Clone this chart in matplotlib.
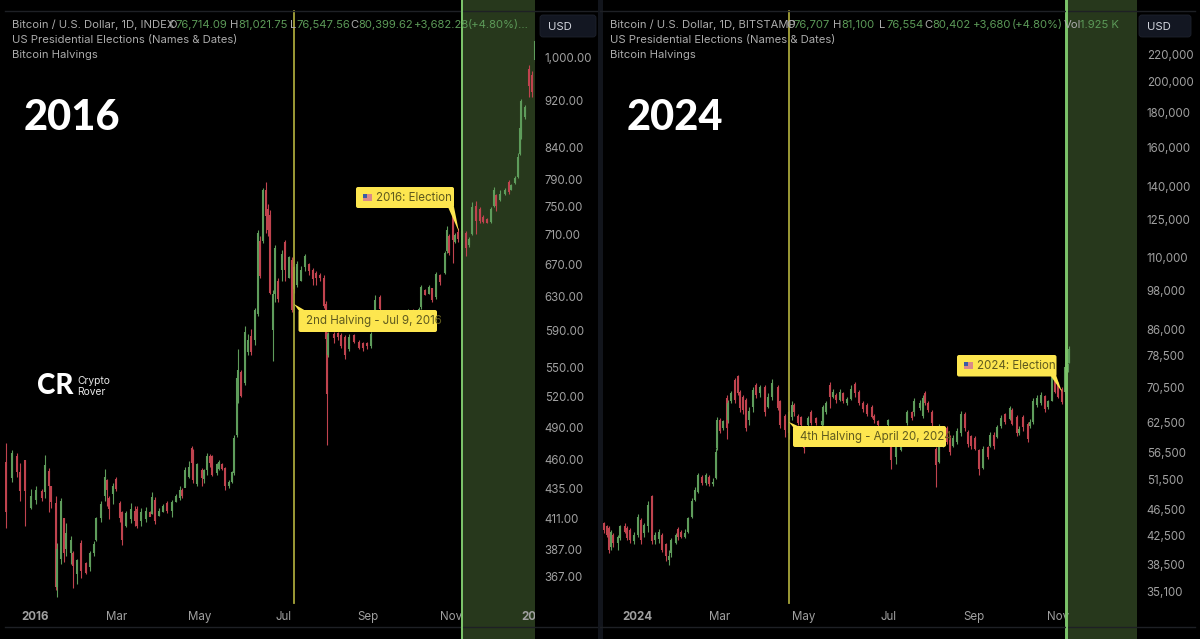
import matplotlib
matplotlib.use("Agg")
import matplotlib.pyplot as plt
from matplotlib.patches import FancyBboxPatch, Polygon, Rectangle
from matplotlib.transforms import Bbox, TransformedBbox, blended_transform_factory

W, H = 1200, 639
FONT = "Inter"
plt.rcParams["font.family"] = [FONT, "DejaVu Sans"]

# ------------------------------------------------------------ 2016 candles
days_2016 = [
    -21,-17,-13,-11,-7,-3,1,5,7,10,
    12,15,16,19,21,23,26,28,31,34,
    37,40,43,45,48,51,53,54,57,59,
    62,64,67,70,73,75,78,81,84,86,
    88,91,94,97,100,103,106,108,110,113,
    115,116,119,122,124,126,128,130,133,135,
    137,139,142,144,146,148,149,151,154,156,
    158,161,163,165,167,169,171,172,174,176,
    178,181,183,186,188,190,192,195,198,201,
    204,206,209,212,213,214,215,219,222,224,
    227,230,234,237,240,243,246,249,253,256,
    260,264,269,273,277,281,283,286,289,291,
    294,297,300,302,303,306,308,310,313,316,
    318,320,323,326,328,331,334,336,338,341,
    344,347,349,352,354,355,356,359,362,364,366]
high_2016 = [
    475,469,466,457,460,435,437,435,464,453,
    437,429,392,427,411,407,397,386,380,394,
    378,386,393,412,425,452,443,429,440,445,
    425,417,417,423,421,421,419,420,417,432,
    428,419,422,425,426,431,437,436,454,459,
    472,470,457,453,452,466,465,464,457,460,
    457,454,442,450,483,542,570,547,595,587,
    592,617,717,708,777,787,754,745,638,696,
    653,690,703,682,680,669,675,669,685,673,
    666,662,660,657,625,589,589,589,589,588,
    585,587,587,580,578,578,589,632,632,612,
    610,606,610,616,616,618,644,640,644,641,
    661,658,688,722,711,745,712,719,717,715,
    707,757,758,749,738,733,749,779,769,774,
    777,789,784,795,831,875,923,913,985,974,1034]
low_2016 = [
    403,441,445,425,405,418,422,425,427,416,
    419,358,353,376,378,382,376,359,362,366,
    369,371,382,393,408,425,421,410,422,433,
    408,390,404,407,405,403,405,408,413,414,
    406,413,416,415,412,424,426,427,437,444,
    452,440,437,437,440,447,454,446,447,451,
    451,434,436,440,447,481,513,519,531,563,
    563,574,607,654,699,713,708,634,557,624,
    624,649,649,653,612,635,642,649,662,657,
    644,644,649,617,577,473,561,576,580,571,
    559,568,576,570,568,570,571,590,614,598,
    598,596,600,602,604,606,616,632,633,624,
    628,644,658,686,683,673,699,701,705,682,
    694,710,711,726,726,726,726,749,744,758,
    767,769,774,784,792,829,854,888,927,927,992]
open_2016 = [
    458,444,463,449,460,419,426,433,432,450,
    437,423,360,380,411,387,384,384,369,392,
    377,374,384,394,411,429,442,427,431,443,
    423,416,405,410,417,418,409,410,416,414,
    426,413,416,423,417,424,427,434,436,445,
    471,469,439,451,443,451,463,463,448,452,
    456,453,437,441,448,483,516,545,534,566,
    584,580,610,702,702,774,746,738,591,633,
    650,664,701,654,677,640,644,650,667,671,
    664,660,657,654,622,583,563,587,588,585,
    583,570,585,578,576,576,573,592,630,600,
    609,598,601,604,614,608,618,639,634,641,
    630,657,660,688,709,741,701,714,715,713,
    696,711,751,747,735,732,728,751,767,760,
    769,787,775,785,794,830,857,891,979,967,996]
close_2016 = [
    416,466,449,433,433,429,434,427,455,437,
    424,360,387,425,384,399,394,375,379,371,
    370,384,391,411,422,445,434,418,437,435,
    411,394,415,418,409,405,416,417,412,428,
    409,417,421,417,424,429,434,429,451,454,
    457,442,456,444,451,463,457,447,456,458,
    452,437,441,449,480,539,547,520,589,580,
    566,614,713,656,774,737,717,635,634,692,
    628,685,664,680,614,667,671,664,682,662,
    652,653,654,619,581,522,587,582,583,573,
    563,583,578,571,571,573,587,626,616,610,
    600,604,608,614,606,616,642,632,642,626,
    658,648,686,717,686,703,710,704,707,692,
    705,749,730,730,728,727,747,774,751,769,
    774,772,782,792,826,872,920,909,947,935,1032]

# ------------------------------------------------------------ 2024 candles
days_2024 = [
    -24,-22,-20,-19,-17,-14,-12,-9,-7,-5,
    -2,1,3,5,8,11,13,16,18,21,
    23,25,28,30,32,35,37,40,42,44,
    47,50,52,55,57,58,60,62,65,66,
    68,71,73,75,77,79,81,84,86,89,
    93,95,98,102,104,107,110,112,114,117,
    119,121,124,126,130,134,135,137,140,142,
    144,147,149,152,155,158,161,164,167,170,
    172,175,178,182,184,188,191,196,199,201,
    205,207,209,211,214,217,219,222,225,227,
    229,232,235,238,240,242,245,248,251,254,
    256,259,261,264,267,270,272,275,277,280,
    283,285,287,290,293,296,298,301,303,305,
    308,310,312,313]
high_2024 = [
    44600,44100,43900,43300,42850,42600,44100,44300,43900,43650,
    43100,45750,45100,44300,47800,48900,43100,43500,42850,41500,
    40450,42100,42950,43800,43300,43500,45300,48350,50250,52700,
    52200,52700,52200,51800,57300,63800,63500,63100,68700,67500,
    69700,72700,73500,69800,68700,68000,66000,70700,71500,71100,
    71100,69200,72500,71100,67500,64400,65300,67200,66800,64400,
    64000,61700,64000,65200,63700,63100,66400,67200,71700,70200,
    69100,70200,69500,68300,71100,71700,69800,67200,66800,66400,
    64400,63100,61500,63300,58500,58200,58500,65300,65000,68100,
    67500,68700,69700,67200,65200,57500,62300,61400,61700,60000,
    60000,61400,65000,64800,61000,60000,59700,57200,57800,57800,
    60600,60500,61900,64100,64700,66200,65600,64100,61700,64100,
    62700,63200,68000,68800,69300,68800,67600,74000,73000,71800,
    70600,76600,76600,81100]
low_2024 = [
    42900,42350,40100,40450,40950,40450,41900,42850,41900,41500,
    41350,42350,41350,42350,43100,41300,41300,41500,40250,39000,
    38400,39500,41300,41900,42100,42100,42850,45100,47800,49100,
    50500,50500,50350,50350,51500,57000,60300,61000,59100,62400,
    66800,66800,68700,64800,64400,60700,62000,64800,68000,68300,
    64000,65700,67500,65200,61300,59600,59100,63100,64000,62000,
    61700,56400,61700,62000,62000,61700,62000,64400,65700,68000,
    66800,67200,66800,66400,67500,68300,66400,64800,64000,63400,
    62500,61700,59500,61700,53300,54300,56700,62000,63100,64000,
    65200,63400,66400,64800,61700,50100,54500,57500,58200,55900,
    57500,58200,59700,60800,57600,57200,56900,52300,53400,55300,
    57500,57200,59300,61400,62300,63000,61900,59700,60000,60800,
    58500,61400,62300,66000,66400,64800,65500,67200,69200,68000,
    66700,69000,74300,76554]
open_2024 = [
    44350,43900,43650,40950,42550,41400,42100,43950,43650,43400,
    41700,42600,44850,42850,43900,48600,41900,42000,42600,41250,
    39100,40000,41500,43450,43100,42350,43100,45300,48050,49300,
    52000,50800,51900,50700,51700,57300,63100,61300,68000,63100,
    67200,72300,73200,69400,68200,67500,63100,65900,71100,69200,
    70700,65900,68300,70700,67200,64000,60300,63700,66400,64000,
    63700,61700,62000,64800,63400,62000,62400,64800,71100,68300,
    68700,67500,69200,66800,67800,71300,69400,66800,66400,66000,
    64000,62800,61000,62000,58200,55600,57000,62400,64800,64800,
    65700,64000,69200,66800,64800,57200,54700,57700,61400,59700,
    57800,58500,60300,64300,60600,59700,59300,56900,53600,57500,
    57800,60000,59600,61700,64300,63300,65300,63800,60300,63800,
    62300,61700,62700,66400,66800,68400,66000,67400,72700,71500,
    70200,69400,74700,76707]
close_2024 = [
    43300,42600,40450,43100,41400,42350,43900,43100,42100,41900,
    42600,45300,41900,44100,47200,41700,42600,43100,40450,39700,
    39700,41900,42600,42350,42350,42850,45100,47800,49700,52300,
    50800,52300,50700,51100,56600,63100,60650,62800,61300,66800,
    69200,67500,69200,65700,65300,61300,65000,69800,68700,70700,
    64900,68300,71500,65800,62000,61000,64800,66400,64900,62500,
    62000,57400,63400,62500,62400,62800,66000,66800,68300,69500,
    67500,69500,67200,67800,70200,69200,66800,65500,64400,63700,
    63100,62000,59800,63000,55000,57800,58000,64800,63400,67200,
    66800,68000,66800,65300,62400,54000,57500,60800,58500,56500,
    59300,60800,64300,61400,58200,57800,57200,53300,57200,55600,
    60000,57800,61500,63500,62700,65600,62300,60300,61200,61500,
    59100,62700,67200,68000,68800,65500,67200,73000,69500,68300,
    67000,75600,76300,80402]

# ------------------------------------------------------------ axes values
yticks_2016 = [1000, 920, 840, 790, 750, 710, 670, 630, 590, 550, 520, 490, 460, 435, 411, 387, 367]
yticks_2024 = [220000, 200000, 180000, 160000, 140000, 125000, 110000, 98000, 86000,
               78500, 70500, 62500, 56500, 51500, 46500, 42500, 38500, 35100]
xticks_2016 = [0, 60, 121, 182, 244, 305, 366]
xlabels_2016 = ["2016", "Mar", "May", "Jul", "Sep", "Nov", "2017"]
xticks_2024 = [0, 60, 121, 182, 244, 305]
xlabels_2024 = ["2024", "Mar", "May", "Jul", "Sep", "Nov"]
halving_2016, election_2016 = 190, 313
halving_2024, election_2024 = 110, 311
band_end_2016, band_end_2024 = 366.3, 362.3

BG = "#000000"
UP = "#5E9C5B"
DOWN = "#C0434E"
GREY = "#ABABAB"
AXTXT = "#A0A0A0"
GREEN_TXT = "#5C9A58"
YEL = "#FDE64F"
YEL_TXT = "#5F5A1E"
BAND = "#27381C"
BAND_LINE = "#7CC46A"
HALV = "#A8A63A"

fig = plt.figure(figsize=(W / 100, H / 100), dpi=100, facecolor=BG)


def pane(x0, x1, y0, y1):
    return fig.add_axes([x0 / W, 1 - y1 / H, (x1 - x0) / W, (y1 - y0) / H])


def draw_panel(ax, days, o, h, l, c, xlim, ylim, yticks, yfmt, xticks, xlabels, halving, election, band_end):
    ax.set_facecolor(BG)
    ax.set_yscale("log")
    ax.set_xlim(*xlim)
    ax.set_ylim(*ylim)
    for s in ax.spines.values():
        s.set_visible(False)
    ax.minorticks_off()
    ax.yaxis.tick_right()
    ax.set_yticks(yticks)
    ax.set_yticklabels([yfmt.format(v) for v in yticks], color=AXTXT, fontsize=8.3)
    ax.set_xticks(xticks)
    ax.set_xticklabels(xlabels, color=AXTXT, fontsize=8.3)
    ax.yaxis.set_minor_locator(matplotlib.ticker.NullLocator())
    ax.tick_params(axis="y", length=0, pad=7)
    ax.tick_params(axis="x", length=0, pad=5.5)
    ax.get_xticklabels()[0].set_fontweight("bold")
    trans = blended_transform_factory(ax.transData, ax.transAxes)
    ax.add_patch(Rectangle((election, -0.08), band_end - election, 1.2, transform=trans,
                           facecolor=BAND, edgecolor="none", clip_on=False, zorder=0.5))
    cols = [UP if cc >= oo else DOWN for oo, cc in zip(o, c)]
    ax.vlines(days, l, h, colors=cols, linewidth=0.8, zorder=3)
    ax.vlines(days, [min(a, b) for a, b in zip(o, c)], [max(a, b) for a, b in zip(o, c)],
              colors=cols, linewidth=1.5, zorder=3)
    ax.plot([halving, halving], [0, 1], transform=trans, color=HALV, lw=1.3, zorder=4, clip_on=False)
    ax.plot([election, election], [-0.08, 1.05], transform=trans, color=BAND_LINE, lw=1.4, zorder=4, clip_on=False)


ax1 = pane(5, 535, 11, 603)
draw_panel(ax1, days_2016, open_2016, high_2016, low_2016, close_2016, (-22, 366.3), (348.9, 1094),
           yticks_2016, "{:,.2f}", xticks_2016, xlabels_2016, halving_2016, election_2016, band_end_2016)
ax2 = pane(603, 1137, 11, 603)
draw_panel(ax2, days_2024, open_2024, high_2024, low_2024, close_2024, (-24.6, 362.3), (33770, 254800),
           yticks_2024, "{:,.0f}", xticks_2024, xlabels_2024, halving_2024, election_2024, band_end_2024)

# "2017" is cut by the edge of the chart pane
lab = ax1.get_xticklabels()[-1]
lab.set_fontweight("bold")
lab.set_clip_box(TransformedBbox(Bbox([[0, 0], [535 / W, 1]]), fig.transFigure))
lab.set_clip_on(True)

# overlay in picture pixels for the interface furniture
ov = fig.add_axes([0, 0, 1, 1], zorder=10)
ov.set_xlim(0, W)
ov.set_ylim(H, 0)
ov.axis("off")
ov.patch.set_alpha(0)

# frame lines and divider
for a, b in [(5, 597), (600, 1195)]:
    ov.plot([a, b], [11, 11], color="#1E2025", lw=1.0)
    ov.plot([a, b], [627, 627], color="#1E2025", lw=1.0)
ov.add_patch(Rectangle((598, 0), 5, H, facecolor="#12151C", edgecolor="none"))
ov.plot([462, 462], [0, H], color=BAND_LINE, lw=1.4)
ov.plot([1066.5, 1066.5], [0, H], color=BAND_LINE, lw=1.4)


def txt(x, y, s, color=GREY, size=8.1, **kw):
    ov.text(x, y, s, color=color, fontsize=size, va="center", ha=kw.pop("ha", "left"), **kw)


# legends
for x0 in (12, 610):
    txt(x0, 40, "US Presidential Elections (Names & Dates)")
    txt(x0, 55, "Bitcoin Halvings")
txt(12, 25, "Bitcoin / U.S. Dollar, 1D, INDEX")
for x, s in [(168, "O"), (230, "H"), (290, "L"), (350, "C")]:
    txt(x, 25, s)
for x, s in [(175.5, "76,714.09"), (238, "81,021.75"), (296, "76,547.56"), (358, "80,399.62"),
             (414, "+3,682.28"), (468, "(+4.80%)...")]:
    txt(x, 25, s, color=GREEN_TXT)
txt(610, 25, "Bitcoin / U.S. Dollar, 1D, BITSTAMP")
for x, s in [(786, "O"), (833, "H"), (879, "L"), (924.5, "C"), (1064, "Vol")]:
    txt(x, 25, s)
for x, s in [(793, "76,707"), (841, "81,100"), (886, "76,554"), (932, "80,402"),
             (973, "+3,680"), (1012, "(+4.80%)"), (1080, "1.925 K")]:
    txt(x, 25, s, color=GREEN_TXT)

# currency buttons
for a, b in [(540, 596), (1139, 1191)]:
    ov.add_patch(FancyBboxPatch((a + 2, 17), b - a - 4, 18, boxstyle="round,pad=2,rounding_size=3",
                                facecolor="#131722", edgecolor="#1E222D", lw=0.6))
    txt(a + 8, 26.5, "USD", color="#D1D4DC", size=8.2)

# big year titles
txt(24, 118, "2016", color="white", size=30, family="Lato", fontweight="black")
txt(627, 118, "2024", color="white", size=30, family="Lato", fontweight="black")

# logo
txt(37, 386, "CR", color="white", size=20, family="Lato", fontweight="black")
txt(77, 381, "Crypto", color="#E8E8E8", size=7.4)
txt(77, 392, "Rover", color="#E8E8E8", size=7.4)


def callout(x0, y0, x1, y1, pointer, s, flag=False):
    ov.add_patch(Polygon(pointer, closed=True, facecolor=YEL, edgecolor="none", zorder=5))
    ov.add_patch(FancyBboxPatch((x0 + 2, y0 + 2), x1 - x0 - 4, y1 - y0 - 4,
                                boxstyle="round,pad=2,rounding_size=2", facecolor=YEL,
                                edgecolor="none", zorder=5))
    tx = x0 + 7
    if flag:
        ov.add_patch(Rectangle((x0 + 7, (y0 + y1) / 2 - 3.5), 9, 7, facecolor="#D98A8A", edgecolor="none", zorder=6))
        ov.add_patch(Rectangle((x0 + 7, (y0 + y1) / 2 - 3.5), 4, 3.5, facecolor="#3B5BA5", edgecolor="none", zorder=6))
        tx = x0 + 20
    ov.text(tx, (y0 + y1) / 2 + 0.3, s, color=YEL_TXT, fontsize=8.3, va="center", ha="left", zorder=6)


callout(356, 187, 454, 208, [(448, 207), (454, 207), (459, 232)], "2016: Election", flag=True)
callout(298.5, 310, 437, 332, [(299, 311), (306, 311), (294, 304)], "2nd Halving - Jul 9, 2016")
callout(957, 355, 1056.5, 376.5, [(1050, 375), (1056, 375), (1062, 392)], "2024: Election", flag=True)
callout(793, 426, 946, 447, [(793, 427), (800, 427), (789, 422)], "4th Halving - April 20, 2024")

fig.savefig("out.png", dpi=100, facecolor=BG)
